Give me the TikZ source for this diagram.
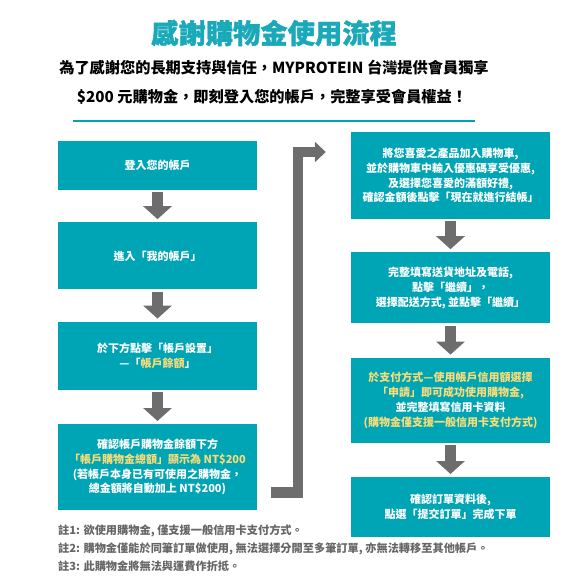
\documentclass[tikz,border=0pt]{standalone}
\usepackage{fontspec}
\newfontfamily\cjk{Noto Sans CJK TC}
\newfontfamily\cjkheavy{Noto Sans CJK TC}[FakeBold=1.2]
\usetikzlibrary{arrows.meta,positioning,calc}
\definecolor{teal0}{HTML}{00A5B5}
\definecolor{titleteal}{HTML}{19A9B9}
\definecolor{arrgray}{HTML}{6D6D6D}
\definecolor{hlyellow}{HTML}{F8DC78}
\definecolor{notegray}{HTML}{666666}
\newcommand{\hlt}[1]{\textcolor{hlyellow}{#1}}
\begin{document}
\begin{tikzpicture}[x=1pt,y=-1pt,font=\cjk\bfseries, node distance=33pt,
box/.style={fill=teal0,text=white,inner sep=0pt,minimum width=199pt,align=center,font=\cjk\bfseries\fontsize{11}{14.7}\selectfont},
sub/.style={align=center,font=\cjk\bfseries\fontsize{15.2}{18}\selectfont},
downarr/.style={draw=arrgray,line width=11pt,-{Triangle[width=28pt,length=13pt]},shorten <=2pt,shorten >=3pt},
turnarr/.style={draw=arrgray,line width=10.5pt,line join=miter,-{Triangle[width=20pt,length=11pt]}},
note/.style={anchor=west,text=notegray,inner sep=0pt,font=\cjk\bfseries\fontsize{11.2}{13}\selectfont}]
\useasboundingbox (0,0) rectangle (580,580);
% header
\node[text=titleteal,font=\cjkheavy\bfseries\fontsize{27.3}{30}\selectfont] (title) at (274,33) {感謝購物金使用流程};
\node[sub] (sub1) at (274,68) {為了感謝您的長期支持與信任，MYPROTEIN 台灣提供會員獨享};
\node[sub] (sub2) at (272,97) {\$200 元購物金，即刻登入您的帳戶，完整享受會員權益！};
\draw[teal0,line width=2pt] (73,121) -- (475,121);
% left column
\node[box,minimum height=49pt] (lb1) at (157.5,165.5) {登入您的帳戶};
\node[box,minimum height=67pt,below=32pt of lb1] (lb2) {進入「我的帳戶」};
\node[box,minimum height=68pt,below=32pt of lb2] (lb3) {於下方點擊「帳戶設置」\\—「\hlt{帳戶餘額}」};
\node[box,minimum height=86pt,below=34pt of lb3] (lb4) {確認帳戶購物金餘額下方\\\hlt{「帳戶購物金總額」顯示為 NT\$200}\\(若帳戶本身已有可使用之購物金，\\總金額將自動加上 NT\$200)};
% right column
\node[box,minimum height=87pt] (rb1) at (450.5,175.5) {將您喜愛之產品加入購物車,\\並於購物車中輸入優惠碼享受優惠,\\及選擇您喜愛的滿額好禮,\\確認金額後點擊「現在就進行結帳」};
\node[box,minimum height=71pt,below=33pt of rb1] (rb2) {完整填寫送貨地址及電話,\\點擊「繼續」，\\選擇配送方式, 並點擊「繼續」};
\node[box,minimum height=85pt,below=34pt of rb2] (rb3) {\hlt{於支付方式—使用帳戶信用額選擇}\\\hlt{「申請」即可成功使用購物金,}\\並完整填寫信用卡資料\\\hlt{(購物金僅支援一般信用卡支付方式)}};
\node[box,minimum height=60pt,below=34pt of rb3] (rb4) {確認訂單資料後,\\點選「提交訂單」完成下單};
% arrows
\draw[downarr] (lb1) -- (lb2);
\draw[downarr] (lb2) -- (lb3);
\draw[downarr] (lb3) -- (lb4);
\draw[downarr] (rb1) -- (rb2);
\draw[downarr] (rb2) -- (rb3);
\draw[downarr] (rb3) -- (rb4);
\coordinate (turnA) at ($(lb4.east)+(14,25.5)$);
\coordinate (turnB) at ($(rb1.west)+(-53,-23.5)$);
\coordinate (turnC) at ($(rb1.west)+(-25,-23.5)$);
\draw[turnarr] (turnA) -| (turnB) -- (turnC);
% notes
\node[note] (n1) at (58,531) {註1: 欲使用購物金, 僅支援一般信用卡支付方式。};
\node[note] (n2) at (58,549) {註2: 購物金僅能於同筆訂單做使用, 無法選擇分開至多筆訂單, 亦無法轉移至其他帳戶。};
\node[note] (n3) at (58,566) {註3: 此購物金將無法與運費作折抵。};
\end{tikzpicture}
\end{document}
